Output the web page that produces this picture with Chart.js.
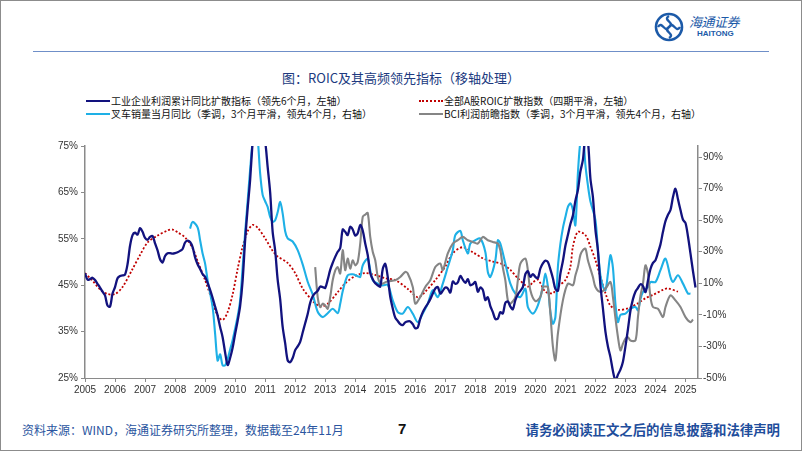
<!DOCTYPE html>
<html>
<head>
<meta charset="utf-8">
<script src="https://cdn.jsdelivr.net/npm/chart.js@4.4.1/dist/chart.umd.min.js"></script>
<style>
    body { margin: 0; background: #fff; }
    #page { position: relative; width: 802px; height: 451px; overflow: hidden; background: #fff;
            font-family: "Liberation Sans", "Noto Sans CJK SC", sans-serif; }
    #frame { position: absolute; left: 0; top: 0; width: 800px; height: 449px; border: 1px solid #8c8c8c; pointer-events: none; }
    #topline { position: absolute; left: 33px; top: 51px; width: 736px; height: 1px; background: #6f8fc8; }
    #logo { position: absolute; left: 654px; top: 12px; }
    #logoCn { position: absolute; left: 689px; top: 12px; font-family: "Noto Sans CJK SC"; font-size: 13px; font-style: italic;
              color: #1c5aa8; letter-spacing: -0.5px; }
    #logoEn { position: absolute; left: 697px; top: 29px; font-size: 8px; font-weight: bold; color: #1c5aa8; }
    #title { position: absolute; left: 0; width: 802px; top: 68px; text-align: center; font-family: "Noto Sans CJK SC";
             font-size: 13px; color: #203a80; }
    .lg { position: absolute; font-family: "Noto Sans CJK SC"; font-size: 10px; color: #111; white-space: nowrap; line-height: 12px; }
    .lg i { display: inline-block; width: 24px; height: 0; vertical-align: middle; margin-right: 1px; position: relative; top: -1px; }
    #chartBox { position: absolute; left: 0; top: 130px; width: 802px; height: 270px; }
    #src { position: absolute; left: 22px; top: 421px; font-family: "Noto Sans CJK SC"; font-size: 12px; color: #2a55a0; }
    #pageNo { position: absolute; left: 398px; top: 420px; font-size: 15px; font-weight: bold; color: #111; }
    #notice { position: absolute; right: 22px; top: 419px; font-family: "Noto Sans CJK SC"; font-size: 13.4px; font-weight: bold; color: #1f4e9c; }
</style>
</head>
<body>
<div id="page">
    <svg id="logo" width="32" height="30" viewBox="0 0 32 30">
        <circle cx="15" cy="15" r="13" fill="none" stroke="#1c5aa8" stroke-width="2.6"/>
        <path d="M15 4 C 8 8, 22 11, 15 15 C 8 19, 22 22, 15 26" fill="none" stroke="#1c5aa8" stroke-width="2.4"/>
        <path d="M4 15 C 8 8, 11 22, 15 15 C 19 8, 22 22, 26 15" fill="none" stroke="#1c5aa8" stroke-width="2.4"/>
    </svg>
    <div id="logoCn">海通证券</div>
    <div id="logoEn">HAITONG</div>
    <div id="topline"></div>

    <div id="title">图：ROIC及其高频领先指标（移轴处理）</div>

    <div class="lg" style="left:86px;top:95px"><i style="border-top:2.4px solid #12127e"></i>工业企业利润累计同比扩散指标（领先6个月，左轴）</div>
    <div class="lg" style="left:86px;top:108px"><i style="border-top:2.4px solid #1eb0e6"></i>叉车销量当月同比（季调，3个月平滑，领先4个月，右轴）</div>
    <div class="lg" style="left:419px;top:95px"><i style="border-top:2px dotted #c00000"></i>全部A股ROIC扩散指数（四期平滑，左轴）</div>
    <div class="lg" style="left:419px;top:108px"><i style="border-top:2.4px solid #858585"></i>BCI利润前瞻指数（季调，3个月平滑，领先4个月，右轴）</div>

    <div id="chartBox"><canvas id="roicChart" width="802" height="270"></canvas></div>

    <div id="src">资料来源：WIND，海通证券研究所整理，数据截至24年11月</div>
    <div id="pageNo">7</div>
    <div id="notice">请务必阅读正文之后的信息披露和法律声明</div>
    <div id="frame"></div>
</div>

<script>
// x axis = months since 2005-01
const yearLabels = ['2005', '2006', '2007', '2008', '2009', '2010', '2011', '2012', '2013', '2014', '2015',
    '2016', '2017', '2018', '2019', '2020', '2021', '2022', '2023', '2024', '2025'];
const leftTicks = [25, 35, 45, 55, 65, 75];
const rightTicks = [-50, -30, -10, 10, 30, 50, 70, 90];

// 工业企业利润累计同比扩散指标 (monthly from 2005-01, left axis)
const profitDiffusion = [
    47.6, 46.2, 46.3, 46.6, 46.1, 45.3, 44.5, 43.6, 42.8, 40.6, 40.4, 43.2,
    44.6, 46.5, 47.0, 47.1, 47.3, 49.5, 53.5, 55.8, 56.3, 55.9, 57.3, 56.5,
    55.2, 54.8, 55.4, 55.6, 54.0, 52.5, 50.6, 49.9, 51.3, 51.9, 51.9, 51.8,
    51.9, 52.1, 52.4, 52.8, 54.2, 54.6, 54.3, 53.2, 51.0, 49.5, 48.5, 47.4,
    46.8, 45.5, 44.0, 42.3, 40.4, 38.5, 36.0, 33.8, 30.5, 27.8, 29.3, 31.5,
    34.5, 37.3, 40.5, 46.0, 54.7, 61.5, 67.7, 76.0, 82.0, 84.0, 82.0, 78.0,
    76.0, 70.5, 65.0, 56.5, 52.5, 46.2, 42.0, 36.0, 32.5, 28.8, 28.4, 29.3,
    31.0, 31.8, 32.8, 34.8, 36.8, 38.8, 41.2, 42.6, 43.3, 43.8, 44.7, 44.6,
    44.4, 46.2, 48.3, 49.8, 51.1, 52.2, 53.0, 57.0, 56.5, 55.8, 57.6, 57.0,
    55.7, 56.2, 58.0, 56.8, 54.0, 51.5, 47.6, 46.3, 45.4, 45.0, 44.7, 48.5,
    49.6, 46.8, 42.5, 40.0, 38.0, 37.3, 36.6, 36.4, 37.0, 37.2, 37.2, 36.6,
    35.7, 35.9, 37.8, 39.2, 40.2, 41.0, 42.0, 43.2, 44.3, 44.6, 43.2, 43.8,
    44.5, 44.3, 43.4, 45.8, 45.3, 45.6, 47.0, 46.2, 45.5, 46.3, 45.0, 45.2,
    45.7, 43.6, 44.5, 44.0, 41.8, 42.4, 40.5, 39.2, 37.7, 37.8, 39.2, 38.9,
    41.2, 41.5, 40.4, 39.8, 41.8, 43.0, 43.8, 44.6, 47.4, 48.0, 46.8, 47.4,
    46.8, 46.5, 48.6, 49.7, 50.3, 50.0, 48.4, 46.5, 44.2, 43.8, 47.5, 50.2,
    53.5, 55.8, 58.2, 60.0, 63.2, 65.5, 69.5, 72.0, 77.0, 76.0, 68.0, 64.0,
    57.0, 52.5, 45.0, 40.0, 35.0, 31.8, 29.5, 26.5, 24.5, 25.7, 26.8, 28.5,
    31.8, 35.5, 39.5, 42.0, 43.6, 44.4, 45.2, 44.8, 43.5, 46.0, 48.5, 49.8,
    50.4, 52.0, 53.8, 56.5, 58.8, 60.2, 61.2, 64.0, 65.8, 63.5, 61.2, 59.1,
    58.4, 55.5, 51.8, 48.0, 44.5
];

// 全部A股ROIC扩散指数 (left axis)
const roicMonths = [0, 3, 6, 9, 12, 15, 19, 22, 25, 29, 33, 35, 37, 40, 43, 45, 48, 51, 53, 55, 57, 59, 61, 63,
    65, 67, 69, 72, 75, 77, 81, 84, 87, 91, 94, 97, 101, 104, 108, 112, 116, 120, 124, 129, 133, 136,
    140, 144, 147, 151, 155, 159, 163, 167, 170, 173, 177, 179, 181, 184, 187, 189, 192, 194, 195, 197,
    200, 202, 204, 206, 208, 210, 213, 217, 221, 224, 227, 231, 233, 237];
const roicValues = [47.6, 46.0, 44.1, 43.1, 43.1, 44.6, 48.5, 51.5, 54.2, 55.7, 56.8, 57.0, 56.4, 55.3, 53.0, 50.2,
    46.1, 41.4, 38.5, 37.5, 39.2, 43.0, 48.5, 53.3, 56.6, 58.0, 57.4, 55.1, 52.4, 51.2, 49.8, 47.6,
    44.3, 41.6, 40.4, 41.0, 43.5, 45.4, 47.0, 47.6, 47.2, 46.5, 46.1, 44.2, 42.4, 43.6, 46.1, 49.0,
    51.9, 53.2, 52.1, 50.8, 50.1, 49.5, 48.3, 46.5, 44.7, 45.6, 46.2, 43.6, 43.3, 44.7, 46.1, 49.0,
    53.3, 56.5, 55.8, 53.3, 50.4, 46.8, 43.3, 40.6, 39.7, 40.0, 41.1, 42.2, 42.9, 44.0, 44.3, 43.6];

// 叉车销量当月同比 (right axis)
const forkliftMonths = [42, 43, 45, 46, 47, 48, 49, 51, 52, 53, 54, 55, 56, 57, 58, 59, 61, 62, 63, 64, 65, 66, 67,
    68, 69, 70, 71, 72, 73, 74, 75, 76, 77, 78, 79, 80, 81, 83, 85, 87, 89, 91, 93, 95, 97, 99, 101,
    102, 103, 105, 107, 109, 110, 111, 113, 114, 115, 117, 119, 121, 123, 125, 127, 129, 131, 133, 135,
    137, 139, 141, 143, 145, 147, 148, 150, 151, 153, 154, 156, 158, 160, 161, 162, 164, 165, 166, 168,
    170, 172, 174, 176, 177, 179, 181, 183, 184, 185, 186, 187, 188, 189, 190, 191, 192, 193, 194, 195,
    196, 197, 198, 199, 200, 201, 202, 204, 205, 206, 207, 208, 209, 210, 211, 212, 213, 214, 216, 218,
    220, 221, 222, 223, 225, 226, 228, 230, 232, 234, 235, 237, 239, 241, 242];
const forkliftValues = [44.7, 48.9, 45.5, 37.3, 28.9, 22.5, 12.0, -5.0, -21.9, -39.0, -35.0, -42.0, -42.0, -38.0, -32.0,
    -26.0, -11.0, -0.8, 20.0, 42.0, 62.0, 82.0, 100.0, 110.0, 102.0, 79.7, 66.0, 62.0, 58.4, 52.0, 48.9,
    50.0, 55.0, 61.6, 54.3, 43.0, 38.5, 36.5, 31.0, 22.0, 11.0, 3.0, -8.0, -11.4, -9.0, -6.1, -8.9,
    -3.0, 5.0, 15.1, 15.7, 14.5, 14.0, 21.4, 25.7, 18.3, 12.0, 9.8, 8.7, 9.0, -0.8, -8.2, -9.2, -5.0,
    -9.2, -14.6, -9.2, -2.9, 5.6, 1.3, 9.8, 20.3, 31.0, 40.5, 43.2, 37.3, 28.9, 35.2, 37.3, 38.4, 29.9,
    17.2, 14.0, 24.6, 37.3, 35.2, 22.5, 9.8, 3.5, 1.3, 6.6, -5.0, -9.2, -4.0, 7.7, 16.2, 8.0, -8.0,
    -15.6, -11.4, 20.3, 35.0, 45.0, 52.0, 58.4, 60.6, 56.5, 46.8, 79.7, 100.0, 105.0, 85.0, 72.0, 62.0,
    50.0, 31.0, 15.0, 8.0, 5.6, 16.2, 27.8, 20.0, -3.0, -14.6, -10.0, -9.2, -6.1, -5.0, -7.1, 0.0, 4.5,
    7.7, 10.8, 10.8, 18.3, 25.7, 14.0, 10.8, 15.1, 9.8, 3.5, 3.5];

// BCI利润前瞻指数 (right axis)
const bciMonths = [92, 93, 94, 95, 96, 97, 98, 99, 100, 101, 102, 103, 104, 105, 106, 107, 108, 109, 110, 111, 112,
    113, 114, 115, 116, 117, 118, 119, 121, 124, 126, 128, 129, 131, 132, 134, 136, 138, 140, 142, 143,
    145, 147, 149, 151, 153, 155, 157, 159, 161, 163, 165, 166, 167, 168, 169, 170, 172, 173, 174, 176,
    177, 178, 180, 182, 183, 184, 185, 186, 187, 188, 189, 191, 193, 195, 196, 197, 198, 199, 200, 201,
    203, 204, 206, 208, 210, 211, 212, 213, 214, 215, 216, 217, 218, 220, 221, 222, 223, 224, 225, 226,
    227, 229, 231, 232, 234, 236, 238, 240, 242, 243];
const bciValues = [20.3, 1.3, -5.0, -2.9, -4.0, -6.1, 1.3, 11.9, 18.0, 20.3, 16.2, 31.0, 18.3, 25.7, 19.3, 24.6,
    21.4, 23.5, 35.2, 52.1, 53.5, 54.6, 39.4, 30.0, 24.6, 14.0, 10.0, 9.8, 11.3, 11.9, 14.0, 17.2, 16.2,
    7.7, -2.9, 1.3, 7.7, 11.9, 20.3, 22.5, 18.3, 28.9, 35.2, 37.3, 39.4, 37.3, 36.2, 35.2, 39.4, 37.3,
    36.2, 35.2, 31.0, 20.0, 11.9, -0.8, -2.9, 1.3, 11.9, 22.5, 25.7, 18.3, 5.6, -1.3, 1.3, 7.7, 8.0,
    7.7, -9.2, -30.0, -38.9, -21.9, -0.8, 9.8, 8.7, 15.0, 20.3, 28.0, 31.0, 32.0, 24.6, 14.0, 7.7, 4.5,
    6.6, 10.8, 1.3, -12.0, -24.0, -32.5, -28.3, -25.0, -24.1, -26.2, -26.2, -11.4, 2.0, 9.8, 21.4, 16.2,
    1.3, -5.0, -6.1, -11.4, -5.0, 2.4, -0.8, -5.0, -11.4, -14.6, -13.0];

const toPoints = (xs, ys) => ys.map((v, i) => ({ x: xs[i], y: v }));
const AXIS_GREY = '#8a8a8a';
const tickFont = { family: '"Liberation Sans", Arial, sans-serif', size: 10 };

new Chart(document.getElementById('roicChart'), {
    type: 'line',
    data: {
        datasets: [
            {
                label: '工业企业利润累计同比扩散指标',
                data: profitDiffusion.map((v, i) => ({ x: i, y: v })),
                yAxisID: 'y',
                borderColor: '#12127e',
                borderWidth: 2.3
            },
            {
                label: 'BCI利润前瞻指数',
                data: toPoints(bciMonths, bciValues),
                yAxisID: 'y1',
                borderColor: '#858585',
                borderWidth: 2.1
            },
            {
                label: '叉车销量当月同比',
                data: toPoints(forkliftMonths, forkliftValues),
                yAxisID: 'y1',
                borderColor: '#1eb0e6',
                borderWidth: 2.1
            },
            {
                label: '全部A股ROIC扩散指数',
                data: toPoints(roicMonths, roicValues),
                yAxisID: 'y',
                borderColor: '#c00000',
                borderWidth: 1.8,
                borderDash: [2, 2]
            }
        ]
    },
    options: {
        responsive: false,
        devicePixelRatio: 1,
        animation: false,
        layout: { padding: { top: 16, left: 0, right: 0, bottom: 0 } },
        elements: {
            point: { radius: 0 },
            line: { tension: 0.3, fill: false }
        },
        datasets: { line: { clip: 0 } },
        plugins: {
            legend: { display: false },
            tooltip: { enabled: false }
        },
        scales: {
            x: {
                type: 'linear',
                min: 0,
                max: 245,
                grid: { drawOnChartArea: false, tickLength: 4, color: AXIS_GREY },
                border: { color: AXIS_GREY },
                afterBuildTicks: s => { s.ticks = yearLabels.map((_, i) => ({ value: i * 12 })); },
                afterFit: s => { s.height = 22; },
                ticks: {
                    autoSkip: false, maxRotation: 0, padding: 2, color: '#333', font: tickFont,
                    callback: v => yearLabels[Math.round(v / 12)]
                }
            },
            y: {
                position: 'left',
                min: 25,
                max: 75,
                grid: { drawOnChartArea: false, tickLength: 4, color: AXIS_GREY },
                border: { color: AXIS_GREY, width: 1.5 },
                afterBuildTicks: s => { s.ticks = leftTicks.map(v => ({ value: v })); },
                afterFit: s => { s.width = 85; },
                ticks: { padding: 3, color: '#333', font: tickFont, callback: v => v + '%' }
            },
            y1: {
                position: 'right',
                min: -50,
                max: 97,
                grid: { drawOnChartArea: false, tickLength: 4, color: AXIS_GREY },
                border: { color: AXIS_GREY, width: 1.5 },
                afterBuildTicks: s => { s.ticks = rightTicks.map(v => ({ value: v })); },
                afterFit: s => { s.width = 104; },
                ticks: { padding: 1, color: '#333', font: tickFont, callback: v => v + '%' }
            }
        }
    }
});
</script>
</body>
</html>
